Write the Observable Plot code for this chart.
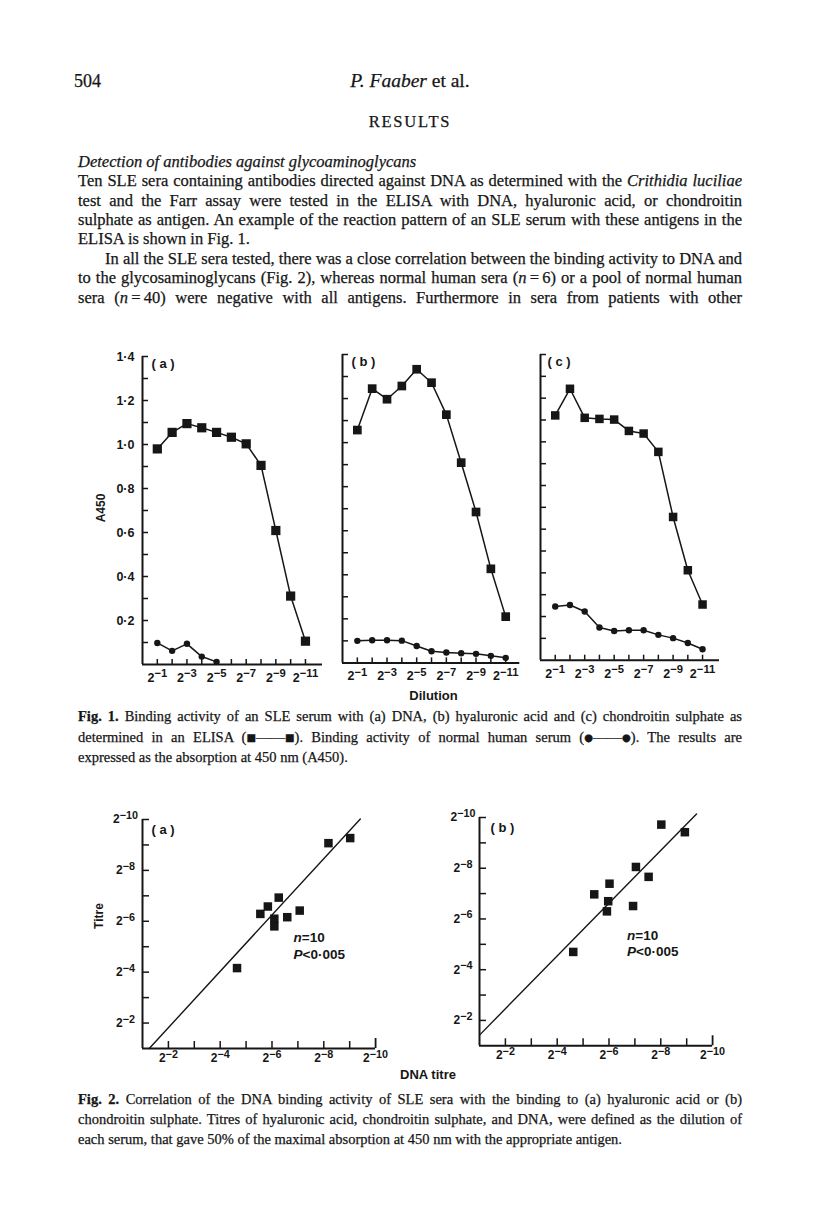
<!DOCTYPE html>
<html>
<head>
<meta charset="utf-8">
<script src="https://cdn.jsdelivr.net/npm/d3@7"></script>
<script src="https://cdn.jsdelivr.net/npm/@observablehq/plot@0.6"></script>
<style>
html,body{margin:0;padding:0;background:#fff;}
#page{position:relative;width:816px;height:1214px;overflow:hidden;background:#fff;color:#161616;font-family:"Liberation Serif","Times New Roman",serif;}
.ln{position:absolute;white-space:nowrap;line-height:1;-webkit-text-stroke:0.25px #161616;}
.ln .inner{display:inline-block;transform-origin:0 50%;}
.sym{font-family:"DejaVu Sans",sans-serif;font-size:0.7em;vertical-align:0.1em;}
</style>
</head>
<body>
<div id="page"></div>
<script>
// ---------------- Fig. 1 data: A450 against dilution 2^-k ----------------
const dilutionSteps = [1, 2, 3, 4, 5, 6, 7, 8, 9, 10, 11];
const dilutionLabelSteps = [1, 3, 5, 7, 9, 11];
const a450Ticks = [0.1, 0.2, 0.3, 0.4, 0.5, 0.6, 0.7, 0.8, 0.9, 1.0, 1.1, 1.2, 1.3, 1.4];
const a450LabelTicks = [0.2, 0.4, 0.6, 0.8, 1.0, 1.2, 1.4];
const dnaSLE = [0.98, 1.055, 1.095, 1.076, 1.055, 1.033, 1.003, 0.905, 0.609, 0.311, 0.106];
const dnaNormal = [0.098, 0.062, 0.094, 0.036, 0.012];
const hyaluronicSLE = [1.057, 1.245, 1.197, 1.257, 1.333, 1.272, 1.127, 0.909, 0.685, 0.427, 0.210];
const hyaluronicNormal = [0.100, 0.103, 0.103, 0.101, 0.077, 0.053, 0.047, 0.044, 0.041, 0.032, 0.023];
const chondroitinSLE = [1.121, 1.243, 1.110, 1.105, 1.102, 1.050, 1.038, 0.954, 0.656, 0.412, 0.255];
const chondroitinNormal = [0.246, 0.253, 0.223, 0.150, 0.134, 0.137, 0.137, 0.116, 0.101, 0.079, 0.050];
const fig1PanelLabels = ["( a )", "( b )", "( c )"];

// ---------------- Fig. 2 data: titres as exponent n of 2^-n ----------------
const titreTicks = [2, 3, 4, 5, 6, 7, 8, 9, 10];
const titreLabelTicks = [2, 4, 6, 8, 10];
const hyaDnaTitre = [4.65, 5.55, 5.84, 6.09, 6.09, 6.26, 6.59, 7.07, 8.18, 9.02];
const hyaTitre = [4.16, 6.29, 6.58, 6.10, 5.80, 6.93, 6.16, 6.42, 9.07, 9.27];
const chsDnaTitre = [4.62, 5.43, 5.92, 5.97, 6.02, 6.93, 7.04, 7.53, 8.02, 8.93];
const chsTitre = [4.70, 6.97, 6.30, 6.70, 7.39, 6.51, 8.05, 7.66, 9.72, 9.42];
const hyaFitDna = [1.26, 9.41];
const hyaFitTitre = [1.0, 10.02];
const chsFitDna = [1.0, 9.38];
const chsFitTitre = [1.42, 10.14];
const fig2PanelLabels = ["( a )", "( b )"];
const statLines = ["<i>n</i>=10", "<i>P</i>&lt;0·005"];

// ---------------- page text ----------------
const bodyLines = [
  "<i>Detection of antibodies against glycoaminoglycans</i>",
  "Ten SLE sera containing antibodies directed against DNA as determined with the <i>Crithidia luciliae</i>",
  "test and the Farr assay were tested in the ELISA with DNA, hyaluronic acid, or chondroitin",
  "sulphate as antigen. An example of the reaction pattern of an SLE serum with these antigens in the",
  "ELISA is shown in Fig. 1.",
  "In all the SLE sera tested, there was a close correlation between the binding activity to DNA and",
  "to the glycosaminoglycans (Fig. 2), whereas normal human sera (<i>n</i>\u2009=\u20096) or a pool of normal human",
  "sera (<i>n</i>\u2009=\u200940) were negative with all antigens. Furthermore in sera from patients with other"
];
const fig1Caption = [
  "<b>Fig. 1.</b> Binding activity of an SLE serum with (a) DNA, (b) hyaluronic acid and (c) chondroitin sulphate as",
  "determined in an ELISA (<span class='sym'>■</span>——<span class='sym'>■</span>). Binding activity of normal human serum (<span class='sym'>●</span>——<span class='sym'>●</span>). The results are",
  "expressed as the absorption at 450 nm (A450)."
];
const fig2Caption = [
  "<b>Fig. 2.</b> Correlation of the DNA binding activity of SLE sera with the binding to (a) hyaluronic acid or (b)",
  "chondroitin sulphate. Titres of hyaluronic acid, chondroitin sulphate, and DNA, were defined as the dilution of",
  "each serum, that gave 50% of the maximal absorption at 450 nm with the appropriate antigen."
];

// ---------------- layout ----------------
const page = document.getElementById("page");
const INK = "#161616";
const SANS = "'Liberation Sans', Arial, sans-serif";
const LEFT = 78, TEXTW = 664;

function textLine(html, o) {
  const d = document.createElement("div");
  d.className = "ln";
  d.style.fontSize = o.size + "px";
  d.style.top = (o.baseline - 0.8375 * o.size) + "px";
  if (o.spacing) d.style.letterSpacing = o.spacing + "px";
  const s = document.createElement("span");
  s.className = "inner";
  s.innerHTML = html;
  d.appendChild(s);
  page.appendChild(d);
  const w = s.getBoundingClientRect().width;
  if (o.center) { d.style.left = (o.x - w / 2) + "px"; return; }
  d.style.left = o.x + "px";
  if (o.width) {
    if (w > o.width) s.style.transform = `scaleX(${o.width / w})`;
    else if (o.justify) {
      const n = (s.textContent.match(/ /g) || []).length;
      if (n) s.style.wordSpacing = ((o.width - w) / n) + "px";
    }
  }
}

function sansLabel(html, x, y, size, rotate = 0, anchor = "middle") {
  const d = document.createElement("div");
  d.innerHTML = html;
  const tx = anchor === "middle" ? "-50%" : "0";
  d.style.cssText = `position:absolute;left:${x}px;top:${y}px;font-size:${size}px;line-height:1;white-space:nowrap;` +
    `transform:translate(${tx},-50%) rotate(${rotate}deg);font-family:${SANS};font-weight:bold;color:${INK};`;
  page.appendChild(d);
}

// header
textLine("504", {x: 74, baseline: 87.5, size: 18});
textLine("<i>P. Faaber</i> et al.", {x: 410, baseline: 87.5, size: 19.5, center: true});
textLine("RESULTS", {x: 410, baseline: 128, size: 16.5, center: true, spacing: 1.8});

// body text
const bodyBase = 167.5, bodyStep = 19.45;
bodyLines.forEach((h, i) => {
  const indent = i === 5 ? 27 : 0;
  const last = i === 0 || i === 4;
  textLine(h, {x: LEFT + indent, baseline: bodyBase + i * bodyStep, size: 16.5,
    width: last ? null : TEXTW - indent, justify: !last});
});

// captions
fig1Caption.forEach((h, i) => {
  textLine(h, {x: LEFT, baseline: 721.5 + i * 20.5, size: 14.5, width: i < 2 ? TEXTW : null, justify: i < 2});
});
fig2Caption.forEach((h, i) => {
  textLine(h, {x: LEFT, baseline: 1104.5 + i * 20, size: 14.5, width: i < 2 ? TEXTW : null, justify: i < 2});
});

// superscript post-processing for "2^−k" tick labels
function superscripts(svg) {
  d3.select(svg).selectAll('g[aria-label$="tick label"] text').each(function () {
    const t = d3.select(this);
    const s = t.text();
    const i = s.indexOf("^");
    if (i < 0) return;
    t.text(s.slice(0, i));
    t.append("tspan").attr("dy", "-0.4em").attr("font-size", "0.9em").text(s.slice(i + 1));
  });
}

function placeSvg(svg, left, top) {
  svg.style.position = "absolute";
  svg.style.left = left + "px";
  svg.style.top = top + "px";
  page.appendChild(svg);
}

const plotStyle = {background: "transparent", overflow: "visible", fontFamily: SANS, fontSize: "12px", fontWeight: "bold", color: INK};

// ---------------- Fig. 1 ----------------
const fig1Layout = [
  {axisX: 142, endX: 322, zeroY: 664.3, topY: 356.3, xmax: 12.15, labelDx: 9},
  {axisX: 341.7, endX: 519, zeroY: 662.7, topY: 354.3, xmax: 11.95, labelDx: 9},
  {axisX: 540, endX: 719, zeroY: 659.7, topY: 354, xmax: 12.15, labelDx: 7}
];
const fig1Series = [
  {sle: dnaSLE, normal: dnaNormal, showY: true, sq: 5.2},
  {sle: hyaluronicSLE, normal: hyaluronicNormal, showY: false, sq: 4.9},
  {sle: chondroitinSLE, normal: chondroitinNormal, showY: false, sq: 4.8}
];

fig1Series.forEach((S, i) => {
  const L = fig1Layout[i];
  const ml = 45, mr = 14, mt = 14, mb = 32;
  const w = ml + (L.endX - L.axisX) + mr;
  const h = mt + (L.zeroY - L.topY) + mb;
  const sleRows = dilutionSteps.map((k, j) => ({k, a: S.sle[j]}));
  const normRows = S.normal.map((a, j) => ({k: dilutionSteps[j], a}));
  const svg = Plot.plot({
    width: w, height: h, marginLeft: ml, marginRight: mr, marginTop: mt, marginBottom: mb,
    style: plotStyle,
    x: {domain: [0, L.xmax]},
    y: {domain: [0, 1.4]},
    marks: [
      Plot.ruleY([0], {stroke: INK, strokeWidth: 2}),
      Plot.ruleX([0], {stroke: INK, strokeWidth: 2}),
      Plot.axisX({ticks: dilutionSteps, tickSize: -5, tickFormat: () => "", label: null, stroke: INK, strokeWidth: 1.5}),
      Plot.axisX({ticks: dilutionLabelSteps, tickSize: 0, tickPadding: 8.5, tickFormat: k => `2^\u2212${k}`, label: null, fontSize: 12.5}),
      Plot.axisY({ticks: a450Ticks, tickSize: -6, tickFormat: () => "", label: null, stroke: INK, strokeWidth: 1.5}),
      S.showY ? Plot.axisY({ticks: a450LabelTicks, tickSize: 0, tickPadding: 8, tickFormat: v => v.toFixed(1).replace(".", "·"), label: null, fontSize: 12.5}) : null,
      Plot.text([fig1PanelLabels[i]], {text: d => d, frameAnchor: "top-left", dx: L.labelDx, dy: 2, textAnchor: "start", fontSize: 13}),
      Plot.line(normRows, {x: "k", y: "a", stroke: INK, strokeWidth: 1.5}),
      Plot.dot(normRows, {x: "k", y: "a", r: 3.2, fill: INK, symbol: "circle"}),
      Plot.line(sleRows, {x: "k", y: "a", stroke: INK, strokeWidth: 1.5}),
      Plot.dot(sleRows, {x: "k", y: "a", r: S.sq, fill: INK, symbol: "square"})
    ]
  });
  superscripts(svg);
  placeSvg(svg, L.axisX - ml, L.topY - mt);
});

sansLabel("A450", 101, 508, 12, -90);
sansLabel("Dilution", 433.5, 695, 13);

// ---------------- Fig. 2 ----------------
const fig2Layout = [
  {axisX: 141.7, endX: 374.8, zeroY: 1048.3, topY: 819.3, labelDx: 9, labelDy: 5, yPad: 17},
  {axisX: 479.3, endX: 712.4, zeroY: 1045, topY: 816.7, labelDx: 11, labelDy: 5, yPad: 16.5}
];
const fig2Series = [
  {dna: hyaDnaTitre, titre: hyaTitre, fitX: hyaFitDna, fitY: hyaFitTitre},
  {dna: chsDnaTitre, titre: chsTitre, fitX: chsFitDna, fitY: chsFitTitre}
];

fig2Series.forEach((S, i) => {
  const L = fig2Layout[i];
  const ml = 50, mr = 24, mt = 14, mb = 26;
  const w = ml + (L.endX - L.axisX) + mr;
  const h = mt + (L.zeroY - L.topY) + mb;
  const pts = S.dna.map((x, j) => ({x, y: S.titre[j]}));
  const fit = S.fitX.map((x, j) => ({x, y: S.fitY[j]}));
  const svg = Plot.plot({
    width: w, height: h, marginLeft: ml, marginRight: mr, marginTop: mt, marginBottom: mb,
    style: plotStyle,
    x: {domain: [1, 10]},
    y: {domain: [1, 10]},
    marks: [
      Plot.ruleY([1], {stroke: INK, strokeWidth: 2}),
      Plot.ruleX([1], {stroke: INK, strokeWidth: 2}),
      Plot.axisX({ticks: titreTicks.slice(0, -1), tickSize: -7, tickFormat: () => "", label: null, stroke: INK, strokeWidth: 1.5}),
      Plot.axisX({ticks: titreTicks.slice(-1), tickSize: -10, tickFormat: () => "", label: null, stroke: INK, strokeWidth: 1.8}),
      Plot.axisX({ticks: titreLabelTicks, tickSize: 0, tickPadding: 5, tickFormat: n => `2^\u2212${n}`, label: null, fontSize: 12}),
      Plot.axisY({ticks: titreTicks, tickSize: -7, tickFormat: () => "", label: null, stroke: INK, strokeWidth: 1.5}),
      Plot.axisY({ticks: titreLabelTicks, tickSize: 0, tickPadding: L.yPad, textAnchor: "middle", tickFormat: n => `2^\u2212${n}`, label: null, fontSize: 12}),
      Plot.text([fig2PanelLabels[i]], {text: d => d, frameAnchor: "top-left", dx: L.labelDx, dy: L.labelDy, textAnchor: "start", fontSize: 13}),
      Plot.line(fit, {x: "x", y: "y", stroke: INK, strokeWidth: 1.4}),
      Plot.dot(pts, {x: "x", y: "y", r: 4.8, fill: INK, symbol: "square"})
    ]
  });
  superscripts(svg);
  placeSvg(svg, L.axisX - ml, L.topY - mt);
});

sansLabel("Titre", 99, 916, 12, -90);
sansLabel("DNA titre", 428, 1074, 13);
sansLabel(statLines[0], 293.5, 937.5, 13.5, 0, "start");
sansLabel(statLines[1], 293.5, 955, 13.5, 0, "start");
sansLabel(statLines[0], 627, 936, 13.5, 0, "start");
sansLabel(statLines[1], 627, 951.5, 13.5, 0, "start");
</script>
</body>
</html>
